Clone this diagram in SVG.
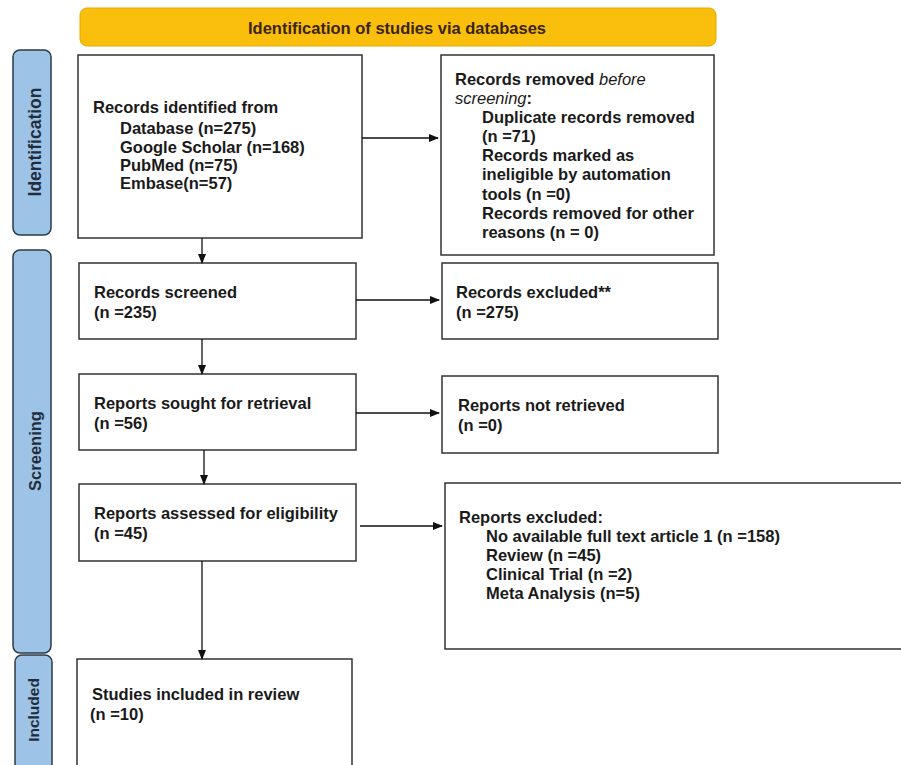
<svg xmlns="http://www.w3.org/2000/svg" width="901" height="765" viewBox="0 0 901 765">
<defs>
<style>
.box{fill:#fff;stroke:#333;stroke-width:1.5}
.side{fill:#9DC3E6;stroke:#2e3b48;stroke-width:1.5}
.t{font-family:"Liberation Sans",Arial,sans-serif;font-weight:bold;font-size:16.5px;fill:#1a1a1a}
.st{font-family:"Liberation Sans",Arial,sans-serif;font-weight:bold;font-size:16.5px;fill:#1f2d3d}
.c{stroke:#111;stroke-width:1.3;fill:none;marker-end:url(#ah)}
</style>
<marker id="ah" markerWidth="10" markerHeight="8" refX="9" refY="4" orient="auto" markerUnits="userSpaceOnUse">
<path d="M0,0 L10,4 L0,8 Z" fill="#111"/>
</marker>
</defs>
<rect width="901" height="765" fill="#fff"/>
<g id="banner">
<rect x="80" y="8" width="636" height="38" rx="7" fill="#FABF0C" stroke="#E2A800" stroke-width="1"/>
<text x="397" y="34" text-anchor="middle" class="st" style="fill:#3a2410">Identification of studies via databases</text>
</g>
<g id="side-identification">
<rect x="13" y="50" width="38" height="185" rx="7" class="side"/>
<text transform="translate(41,142) rotate(-90)" text-anchor="middle" class="st" style="font-size:17.5px">Identification</text>
</g>
<g id="side-screening">
<rect x="13" y="250" width="38" height="403" rx="7" class="side"/>
<text transform="translate(41,451) rotate(-90)" text-anchor="middle" class="st">Screening</text>
</g>
<g id="side-included">
<rect x="15" y="655" width="37" height="115" rx="7" class="side"/>
<text transform="translate(39,710) rotate(-90)" text-anchor="middle" class="st" style="font-size:15.5px">Included</text>
</g>
<g id="identified">
<rect x="78" y="55" width="284" height="183" class="box"/>
<text class="t" x="93" y="113">Records identified from</text>
<text class="t" x="120" y="134">Database (n=275)</text>
<text class="t" x="120" y="153">Google Scholar (n=168)</text>
<text class="t" x="120" y="171">PubMed (n=75)</text>
<text class="t" x="120" y="189">Embase(n=57)</text>
</g>
<g id="removed">
<rect x="441" y="55" width="273" height="200" class="box"/>
<text class="t" x="455" y="85">Records removed <tspan font-style="italic" font-weight="normal">before</tspan></text>
<text class="t" x="455" y="104"><tspan font-style="italic" font-weight="normal">screening</tspan>:</text>
<text class="t" x="482" y="123">Duplicate records removed</text>
<text class="t" x="482" y="142">(n =71)</text>
<text class="t" x="482" y="161">Records marked as</text>
<text class="t" x="482" y="180">ineligible by automation</text>
<text class="t" x="482" y="200">tools (n =0)</text>
<text class="t" x="482" y="219">Records removed for other</text>
<text class="t" x="482" y="238">reasons (n = 0)</text>
</g>
<g id="screened">
<rect x="79" y="263" width="277" height="76" class="box"/>
<text class="t" x="94" y="298">Records screened</text>
<text class="t" x="94" y="318">(n =235)</text>
</g>
<g id="excluded">
<rect x="442" y="263" width="276" height="76" class="box"/>
<text class="t" x="456" y="298">Records excluded**</text>
<text class="t" x="456" y="318">(n =275)</text>
</g>
<g id="sought">
<rect x="79" y="374" width="277" height="76" class="box"/>
<text class="t" x="94" y="409">Reports sought for retrieval</text>
<text class="t" x="94" y="429">(n =56)</text>
</g>
<g id="not-retrieved">
<rect x="442" y="376" width="276" height="77" class="box"/>
<text class="t" x="458" y="411">Reports not retrieved</text>
<text class="t" x="458" y="431">(n =0)</text>
</g>
<g id="assessed">
<rect x="79" y="484" width="277" height="77" class="box"/>
<text class="t" x="94" y="519">Reports assessed for eligibility</text>
<text class="t" x="94" y="539">(n =45)</text>
</g>
<g id="reports-excluded">
<rect x="445" y="483" width="460" height="166" class="box"/>
<text class="t" x="459" y="523">Reports excluded:</text>
<text class="t" x="486" y="542">No available full text article 1 (n =158)</text>
<text class="t" x="486" y="561">Review (n =45)</text>
<text class="t" x="486" y="580">Clinical Trial (n =2)</text>
<text class="t" x="486" y="599">Meta Analysis (n=5)</text>
</g>
<g id="included">
<rect x="77" y="659" width="275" height="110" class="box"/>
<text class="t" x="92" y="700">Studies included in review</text>
<text class="t" x="90" y="720">(n =10)</text>
</g>
<g id="connectors">
<line x1="362" y1="138" x2="438" y2="138" class="c"/>
<line x1="202" y1="238" x2="202" y2="263" class="c"/>
<line x1="356" y1="300" x2="439" y2="300" class="c"/>
<line x1="202" y1="339" x2="202" y2="374" class="c"/>
<line x1="356" y1="413" x2="439" y2="413" class="c"/>
<line x1="204" y1="450" x2="204" y2="484" class="c"/>
<line x1="360" y1="526" x2="442" y2="526" class="c"/>
<line x1="202" y1="561" x2="202" y2="659" class="c"/>
</g>
</svg>
